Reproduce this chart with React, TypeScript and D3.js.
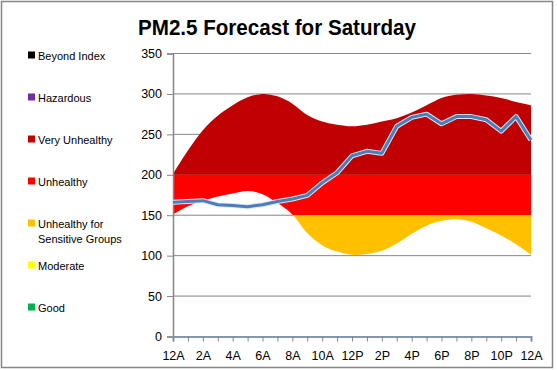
import React, { useEffect, useRef } from 'react';
import * as d3 from 'd3';

// hourly values, 12A Saturday through 12A Sunday
const hours = ['12A', '1A', '2A', '3A', '4A', '5A', '6A', '7A', '8A', '9A', '10A', '11A',
  '12P', '1P', '2P', '3P', '4P', '5P', '6P', '7P', '8P', '9P', '10P', '11P', '12A'];
const rangeLow = [151, 161, 168, 173, 177, 180, 176, 165, 151, 128, 113, 105, 101,
  102, 106, 115, 127, 137, 143, 145, 142, 134, 125, 114, 101];
const rangeHigh = [201, 230, 255, 273, 286, 296, 300, 297, 288, 274, 266, 262, 260,
  262, 266, 270, 277, 286, 295, 299, 300, 298, 295, 290, 286];
const forecast = [166, 167, 168, 163, 162, 160.5, 163, 167, 170, 174.5, 190, 202.5, 223.5,
  229, 226.5, 260, 271, 275, 263, 272, 272, 268, 254, 272, 243];

const yTicks = [0, 50, 100, 150, 200, 250, 300, 350];

const categories = [
  { name: 'Beyond Index', lo: 500, hi: 1000, color: '#000000' },
  { name: 'Hazardous', lo: 300, hi: 500, color: '#7030a0' },
  { name: 'Very Unhealthy', lo: 200, hi: 300, color: '#c00000' },
  { name: 'Unhealthy', lo: 150, hi: 200, color: '#ff0000' },
  { name: 'Unhealthy for|Sensitive Groups', lo: 100, hi: 150, color: '#ffc000' },
  { name: 'Moderate', lo: 50, hi: 100, color: '#ffff00' },
  { name: 'Good', lo: 0, hi: 50, color: '#00b050' },
];

const App = () => {
  const svgRef = useRef<SVGSVGElement>(null);
  const width = 557;
  const height = 370;

  useEffect(() => {
    const svg = d3.select(svgRef.current);
    svg.selectAll('*').remove();

    const margin = { top: 53.5, right: 26, bottom: 33.5, left: 173 };
    const font = '"Liberation Sans", Arial, sans-serif';

    const x = d3.scaleLinear()
      .domain([0, hours.length - 1])
      .range([margin.left, width - margin.right]);
    const y = d3.scaleLinear()
      .domain([0, 350])
      .range([height - margin.bottom, margin.top]);

    svg.append('rect')
      .attr('x', 1.5).attr('y', 1.5)
      .attr('width', 551).attr('height', 366)
      .attr('fill', '#fff')
      .attr('stroke', '#868686')
      .attr('stroke-width', 1.5);

    // title
    svg.append('text')
      .attr('x', 277).attr('y', 35)
      .attr('text-anchor', 'middle')
      .attr('font-family', font)
      .attr('font-weight', 'bold')
      .attr('font-size', 22)
      .attr('textLength', 278)
      .attr('lengthAdjust', 'spacingAndGlyphs')
      .text('PM2.5 Forecast for Saturday');

    // gridlines
    svg.append('g')
      .selectAll('line')
      .data(yTicks.filter(d => d > 0))
      .join('line')
      .attr('x1', x(0)).attr('x2', x(hours.length - 1))
      .attr('y1', d => y(d)).attr('y2', d => y(d))
      .attr('stroke', '#868686')
      .attr('stroke-width', 1);

    // forecast range, coloured by AQI band
    const idx = d3.range(hours.length);
    const area = d3.area<number>()
      .x(i => x(i))
      .y0(i => y(rangeLow[i]))
      .y1(i => y(rangeHigh[i]))
      .curve(d3.curveCatmullRom.alpha(0.5));

    svg.append('clipPath')
      .attr('id', 'rangeClip')
      .append('path')
      .attr('d', area(idx));

    svg.append('g')
      .attr('clip-path', 'url(#rangeClip)')
      .selectAll('rect')
      .data(categories.filter(c => c.lo < 350))
      .join('rect')
      .attr('x', x(0))
      .attr('width', x(hours.length - 1) - x(0))
      .attr('y', d => y(Math.min(d.hi, 350)))
      .attr('height', d => y(d.lo) - y(Math.min(d.hi, 350)))
      .attr('fill', d => d.color);

    // y axis
    const yAxis = svg.append('g')
      .attr('transform', `translate(${x(0)},0)`)
      .call(d3.axisLeft(y).tickValues(yTicks).tickSize(6).tickPadding(5));
    yAxis.select('.domain').attr('stroke', '#868686').attr('stroke-width', 1.5);
    yAxis.selectAll('.tick line').attr('stroke', '#868686');
    yAxis.selectAll('.tick text')
      .attr('font-family', font)
      .attr('font-size', 12.5)
      .attr('fill', '#000');

    // x axis
    const xAxis = svg.append('g')
      .attr('transform', `translate(0,${y(0)})`)
      .call(d3.axisBottom(x)
        .tickValues(idx)
        .tickSize(5)
        .tickPadding(10)
        .tickFormat(i => (+i % 2 === 0 ? hours[+i] : '')));
    xAxis.select('.domain').attr('stroke', '#8497b0').attr('stroke-width', 2);
    xAxis.selectAll('.tick line').attr('stroke', '#868686');
    xAxis.selectAll('.tick text')
      .attr('font-family', font)
      .attr('font-size', 12.5)
      .attr('fill', '#000');

    // forecast line
    const line = d3.line<number>()
      .x(i => x(i))
      .y(i => y(forecast[i]));
    svg.append('path')
      .attr('d', line(idx))
      .attr('fill', 'none')
      .attr('stroke', '#dce6f2')
      .attr('stroke-width', 5)
      .attr('stroke-linejoin', 'round');
    svg.append('path')
      .attr('d', line(idx))
      .attr('fill', 'none')
      .attr('stroke', '#4a7ebb')
      .attr('stroke-width', 3)
      .attr('stroke-linejoin', 'round');

    // legend
    const legend = svg.append('g');
    categories.forEach((c, i) => {
      const ly = 55.5 + i * 42;
      legend.append('rect')
        .attr('x', 28).attr('y', ly - 4)
        .attr('width', 7).attr('height', 7)
        .attr('fill', c.color);
      const t = legend.append('text')
        .attr('x', 38).attr('y', ly + 4)
        .attr('font-family', font)
        .attr('font-size', 11)
        .attr('fill', '#000');
      c.name.split('|').forEach((part, j) => {
        t.append('tspan')
          .attr('x', 38)
          .attr('dy', j === 0 ? 0 : 15)
          .text(part);
      });
    });
  }, []);

  return (
    <div style={{ position: 'fixed', left: 0, top: 0 }}>
      <svg ref={svgRef} width={width} height={height} style={{ display: 'block' }} />
    </div>
  );
};

export default App;
